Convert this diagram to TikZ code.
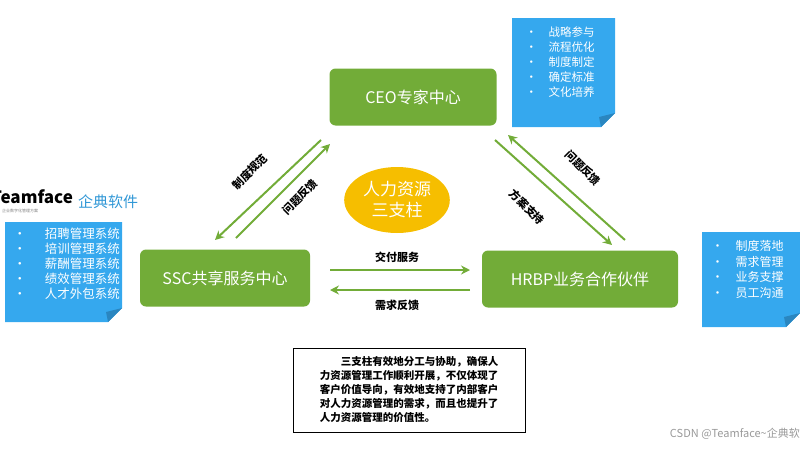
\documentclass[tikz,border=0pt]{standalone}
\usepackage{fontspec}
\setmainfont{Noto Sans CJK SC}
\usetikzlibrary{shapes.geometric,arrows.meta}
\definecolor{gbox}{HTML}{72AC38}
\definecolor{bnote}{HTML}{35A8EE}
\definecolor{bfold}{HTML}{2A86C0}
\definecolor{yel}{HTML}{F6BE00}
\begin{document}
\begin{tikzpicture}[x=1pt,y=-1pt,
 gb/.style={draw=none,fill=gbox,rounded corners=6pt,text=white,font=\fontsize{16}{18}\selectfont,minimum height=57pt},
 arr/.style={draw=gbox,line width=2pt,-{Stealth[length=9pt,width=9pt]}},
 lab/.style={font=\bfseries\fontsize{11}{12}\selectfont},
 note/.style={text=white,font=\fontsize{11.5}{15}\selectfont,align=left}]
\useasboundingbox (0,0) rectangle (800,450);
\node[gb,minimum width=167pt] (ceo) at (413,97) {CEO专家中心};
\node[gb,minimum width=170pt] (ssc) at (225,278) {SSC共享服务中心};
\node[gb,minimum width=196pt] (hrbp) at (580,279) {HRBP业务合作伙伴};
\node[ellipse,fill=yel,minimum width=104pt,minimum height=66pt,text=white,align=center,font=\fontsize{17}{21}\selectfont] (core) at (397,200) {人力资源\\三支柱};
% diagonal arrows
\coordinate (a1) at (321,140); \coordinate (a2) at (215,240);
\coordinate (b1) at (236,238); \coordinate (b2) at (330,144);
\draw[arr] (a1) -- (a2); \draw[arr] (b1) -- (b2);
\node[lab,rotate=45] (l1) at (250,172) {制度规范};
\node[lab,rotate=45] (l2) at (300,197) {问题反馈};
\coordinate (c1) at (625,240); \coordinate (c2) at (508,135);
\coordinate (d1) at (495,140); \coordinate (d2) at (612,245);
\draw[arr] (c1) -- (c2); \draw[arr] (d1) -- (d2);
\node[lab,rotate=-45] (l3) at (583,168) {问题反馈};
\node[lab,rotate=-45] (l4) at (527,207) {方案支持};
% horizontal arrows
\coordinate (e1) at (330,270); \coordinate (e2) at (470,270);
\coordinate (f1) at (470,290); \coordinate (f2) at (330,290);
\draw[arr] (e1) -- (e2); \draw[arr] (f1) -- (f2);
\node[lab] (l5) at (397,257) {交付服务};
\node[lab] (l6) at (397,305) {需求反馈};
% notes
\newcommand{\mynote}[4]{%
 \fill[bnote] (#1,#2) -- (#3,#2) -- (#3,#4-14) -- (#3-14,#4) -- (#1,#4) -- cycle;
 \fill[bfold] (#3,#4-14) -- (#3-16,#4-10) -- (#3-14,#4) -- cycle;}
\mynote{512}{18}{615}{127}
\mynote{5}{222}{122}{322}
\mynote{702}{232}{800}{327}
\node[note,anchor=north west] (n1) at (522,23) {•\quad 战略参与\\•\quad 流程优化\\•\quad 制度制定\\•\quad 确定标准\\•\quad 文化培养};
\node[note,anchor=north west,font=\fontsize{12.5}{15}\selectfont] (n2) at (10,224) {•\quad\; 招聘管理系统\\•\quad\; 培训管理系统\\•\quad\; 薪酬管理系统\\•\quad\; 绩效管理系统\\•\quad\; 人才外包系统};
\node[note,anchor=north west,font=\fontsize{12}{15.5}\selectfont] (n3) at (708,237) {•\quad 制度落地\\•\quad 需求管理\\•\quad 业务支撑\\•\quad 员工沟通};
% logo
\begin{scope}
\clip (0,180) rectangle (80,220);
\node[anchor=west,font=\bfseries\fontsize{17}{18}\selectfont,inner sep=0] (logo) at (-9,197) {Teamface};
\end{scope}
\node[anchor=west,font=\fontsize{4}{5}\selectfont,text=gray,inner sep=0] (logo2) at (2,211) {企业数字化管理方案};
\node[anchor=west,text=bnote!90!black,font=\fontsize{15}{18}\selectfont,inner sep=0] (qd) at (78,202) {企典软件};
% text box
\node[draw,line width=0.8pt,minimum width=232pt,minimum height=84pt,align=left,font=\bfseries\fontsize{10.5}{14}\selectfont] (tb) at (409,390)
 {\hspace*{2em}三支柱有效地分工与协助，确保人\\力资源管理工作顺利开展，不仅体现了\\客户价值导向，有效地支持了内部客户\\对人力资源管理的需求，而且也提升了\\人力资源管理的价值性。};
\node[anchor=east,text=gray!80,font=\fontsize{11}{12}\selectfont,inner sep=0] (wm) at (800,434) {CSDN @Teamface\textasciitilde 企典软};
\end{tikzpicture}
\end{document}
